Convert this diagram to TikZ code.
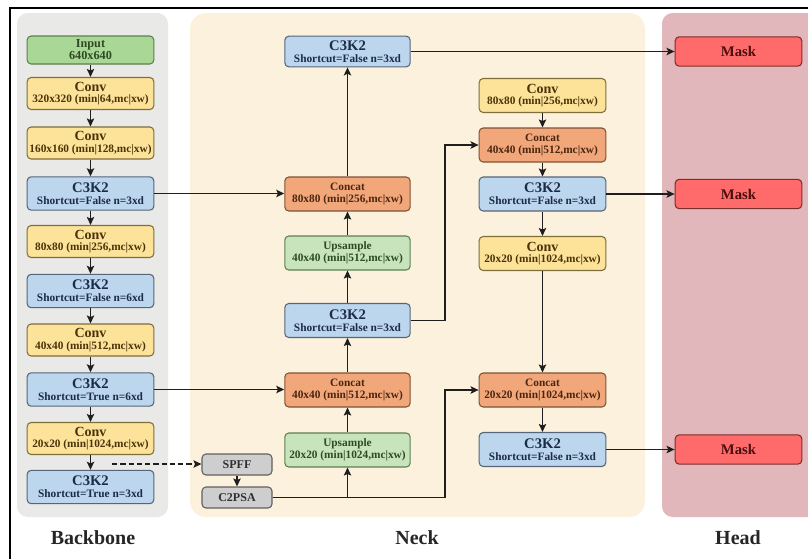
\documentclass[tikz,border=0pt]{standalone}
\usepackage{fontspec}
\setmainfont{Liberation Serif}
\usetikzlibrary{arrows.meta,calc}
\definecolor{bbpanel}{HTML}{E9E9E8}
\definecolor{nkpanel}{HTML}{FCF1DD}
\definecolor{hdpanel}{HTML}{E2B7BB}
\definecolor{inFill}{HTML}{A9D896}
\definecolor{inDraw}{HTML}{5E7F50}
\definecolor{inText}{HTML}{2E4A22}
\definecolor{cvFill}{HTML}{FDE39A}
\definecolor{cvDraw}{HTML}{7E6E3A}
\definecolor{cvText}{HTML}{4A3308}
\definecolor{ckFill}{HTML}{BCD6EE}
\definecolor{ckDraw}{HTML}{56657A}
\definecolor{ckText}{HTML}{1C2B48}
\definecolor{ccFill}{HTML}{F2A77A}
\definecolor{ccDraw}{HTML}{7E5236}
\definecolor{ccText}{HTML}{4A2610}
\definecolor{upFill}{HTML}{C7E4BD}
\definecolor{upDraw}{HTML}{5E7F50}
\definecolor{upText}{HTML}{2E4A22}
\definecolor{gyFill}{HTML}{CECECE}
\definecolor{gyDraw}{HTML}{606060}
\definecolor{gyText}{HTML}{303030}
\definecolor{mkFill}{HTML}{FF6B6B}
\definecolor{mkDraw}{HTML}{7E2C2C}
\definecolor{mkText}{HTML}{4A0E0E}
\definecolor{lineC}{HTML}{1E1E1E}
\newcommand{\nodetitle}[2][10.5]{{\fontsize{#1}{#1}\selectfont #2}}
\tikzset{
  nbox/.style={rounded corners=3pt, line width=0.8pt, align=center, inner sep=0pt,
    font=\fontsize{8.5}{8.8}\selectfont\bfseries},
  bbw/.style={nbox, minimum width=95pt, minimum height=24pt},
  nkw/.style={nbox, minimum width=94pt, minimum height=25.5pt},
  nkw2/.style={nbox, minimum width=95pt, minimum height=25.5pt},
  hdw/.style={nbox, minimum width=95pt, minimum height=22pt},
  gyw/.style={nbox, minimum width=52.5pt, minimum height=15.75pt, fill=gyFill, draw=gyDraw, text=gyText},
  inC/.style={fill=inFill, draw=inDraw, text=inText},
  cvC/.style={fill=cvFill, draw=cvDraw, text=cvText},
  ckC/.style={fill=ckFill, draw=ckDraw, text=ckText},
  ccC/.style={fill=ccFill, draw=ccDraw, text=ccText},
  upC/.style={fill=upFill, draw=upDraw, text=upText},
  mkC/.style={fill=mkFill, draw=mkDraw, text=mkText},
  arr/.style={draw=lineC, line width=1.4pt, -{Stealth[length=6pt,width=5.5pt,inset=1.2pt]}},
  lab/.style={font=\fontsize{15}{15}\selectfont\bfseries, text=black!85}
}
\begin{document}
\begin{tikzpicture}[x=0.75pt,y=-0.75pt]
\useasboundingbox (0,0) rectangle (808,558);
\clip (0,0) rectangle (808,558);
\fill[white] (0,0) rectangle (808,558);
% panels
\fill[bbpanel, rounded corners=8pt] (17,13) rectangle (168,517);
\fill[nkpanel, rounded corners=12pt] (190,13) rectangle (645,517);
\fill[hdpanel, rounded corners=8pt] (662,13) rectangle (830,517);
\draw[black, line width=1.5pt] (10,8) rectangle (830,580);

% backbone
\node[bbw,inC,minimum height=21pt,font=\fontsize{9.2}{9}\selectfont\bfseries] (in) at (90.5,50) {Input\\640x640};
\node[bbw,cvC] (c1) at (90.5,93.5) {\nodetitle{Conv}\\320x320 (min|64,mc|xw)};
\node[bbw,cvC] (c2) at (90.5,143) {\nodetitle{Conv}\\160x160 (min|128,mc|xw)};
\node[bbw,ckC,minimum height=25pt] (k1) at (90.5,193.5) {\nodetitle[11]{C3K2}\\Shortcut=False n=3xd};
\node[bbw,cvC] (c3) at (90.5,241.5) {\nodetitle{Conv}\\80x80 (min|256,mc|xw)};
\node[bbw,ckC,minimum height=25pt] (k2) at (90.5,291) {\nodetitle[11]{C3K2}\\Shortcut=False n=6xd};
\node[bbw,cvC] (c4) at (90.5,340) {\nodetitle{Conv}\\40x40 (min|512,mc|xw)};
\node[bbw,ckC,minimum height=25pt] (k3) at (90.5,389.5) {\nodetitle[11]{C3K2}\\Shortcut=True n=6xd};
\node[bbw,cvC] (c5) at (90.5,438.5) {\nodetitle{Conv}\\20x20 (min|1024,mc|xw)};
\node[bbw,ckC,minimum height=25pt] (k4) at (90.5,487) {\nodetitle[11]{C3K2}\\Shortcut=True n=3xd};

% SPFF / C2PSA
\node[gyw,font=\fontsize{9}{9}\selectfont\bfseries] (spff) at (237,464.5) {SPFF};
\node[gyw,font=\fontsize{9}{9}\selectfont\bfseries] (c2psa) at (237,497.5) {C2PSA};

% neck column 1
\node[nkw,ckC,minimum height=23pt] (n1) at (347.5,51.5) {\nodetitle[11]{C3K2}\\Shortcut=False n=3xd};
\node[nkw,ccC] (n2) at (347.5,194) {Concat\\80x80 (min|256,mc|xw)};
\node[nkw,upC] (n3) at (347.5,253) {Upsample\\40x40 (min|512,mc|xw)};
\node[nkw,ckC] (n4) at (347.5,320.5) {\nodetitle[11]{C3K2}\\Shortcut=False n=3xd};
\node[nkw,ccC] (n5) at (347.5,390) {Concat\\40x40 (min|512,mc|xw)};
\node[nkw,upC] (n6) at (347.5,450) {Upsample\\20x20 (min|1024,mc|xw)};

% neck column 2
\node[nkw2,cvC] (m1) at (542.5,95.5) {\nodetitle{Conv}\\80x80 (min|256,mc|xw)};
\node[nkw2,ccC] (m2) at (542.5,145) {Concat\\40x40 (min|512,mc|xw)};
\node[nkw2,ckC] (m3) at (542.5,194) {\nodetitle[11]{C3K2}\\Shortcut=False n=3xd};
\node[nkw2,cvC] (m4) at (542.5,253.5) {\nodetitle{Conv}\\20x20 (min|1024,mc|xw)};
\node[nkw2,ccC] (m5) at (542.5,390) {Concat\\20x20 (min|1024,mc|xw)};
\node[nkw2,ckC] (m6) at (542.5,449.5) {\nodetitle[11]{C3K2}\\Shortcut=False n=3xd};

% head
\node[hdw,mkC] (h1) at (738.5,51.5) {\nodetitle[11]{Mask}};
\node[hdw,mkC] (h2) at (738.5,194) {\nodetitle[11]{Mask}};
\node[hdw,mkC] (h3) at (738.5,449.5) {\nodetitle[11]{Mask}};

% labels
\node[lab] (lb1) at (93,538) {Backbone};
\node[lab] (lb2) at (417,538) {Neck};
\node[lab] (lb3) at (738,538) {Head};

% backbone chain
\draw[arr] (in) -- (c1);
\draw[arr] (c1) -- (c2);
\draw[arr] (c2) -- (k1);
\draw[arr] (k1) -- (c3);
\draw[arr] (c3) -- (k2);
\draw[arr] (k2) -- (c4);
\draw[arr] (c4) -- (k3);
\draw[arr] (k3) -- (c5);
\draw[arr] (c5) -- (k4);

% lateral
\draw[arr] (k1.east) -- (k1.east -| n2.west);
\draw[arr] (k3.east) -- (k3.east -| n5.west);
\coordinate (ds) at (112,464);
\draw[arr, dash pattern=on 4pt off 2.2pt] (ds) -- (ds -| spff.west);
\draw[arr] (spff) -- (c2psa);

% neck col1
\coordinate (bus) at (445,0);
\draw[draw=lineC, line width=1.4pt] (c2psa.east) -- (c2psa.east -| n6.south);
\draw[arr] (c2psa.east -| n6.south) -- (n6.south);
\draw[arr] (c2psa.east) -- (c2psa.east -| bus) |- (m5.west);
\draw[arr] (n6) -- (n5);
\draw[arr] (n5) -- (n4);
\draw[arr] (n4) -- (n3);
\draw[arr] (n3) -- (n2);
\draw[arr] (n2) -- (n1);
\draw[arr] (n1.east) -- (n1.east -| h1.west);
\draw[arr] (n4.east) -- (n4.east -| bus) |- (m2.west);

% neck col2
\draw[arr] (m1) -- (m2);
\draw[arr] (m2) -- (m3);
\draw[arr] (m3) -- (m4);
\draw[arr] (m4) -- (m5);
\draw[arr] (m5) -- (m6);
\draw[arr] (m3.east) -- (m3.east -| h2.west);
\draw[arr] (m6.east) -- (m6.east -| h3.west);
\end{tikzpicture}
\end{document}
